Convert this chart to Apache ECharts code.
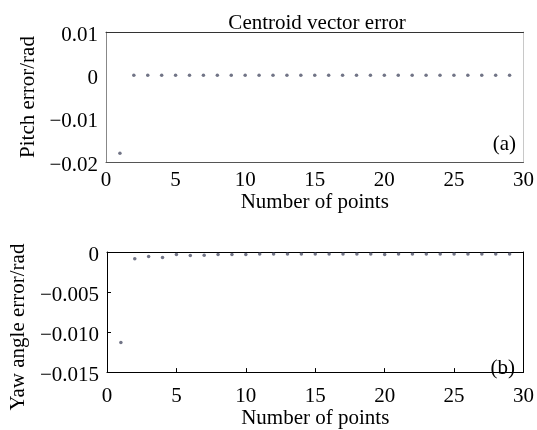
<!DOCTYPE html>
<html>
<head>
<meta charset="utf-8">
<script src="https://cdn.jsdelivr.net/npm/echarts@6/dist/echarts.min.js"></script>
<style>
  html, body { margin: 0; padding: 0; background: #fff; }
  #chart { width: 537px; height: 430px; }
</style>
</head>
<body>
<div id="chart"></div>
<script>
// Sample index along the x axis
const pointIndex = [1, 2, 3, 4, 5, 6, 7, 8, 9, 10, 11, 12, 13, 14, 15, 16, 17, 18, 19, 20,
                    21, 22, 23, 24, 25, 26, 27, 28, 29];

// (a) pitch error per point, rad
const pitchError = [-0.018, 0, 0, 0, 0, 0, 0, 0, 0, 0, 0, 0, 0, 0, 0, 0, 0, 0, 0, 0,
                    0, 0, 0, 0, 0, 0, 0, 0, 0];

// (b) yaw angle error per point, rad
const yawError = [-0.0113, -0.00085, -0.00055, -0.0007, -0.0003, -0.00045, -0.0004, -0.0003,
                  -0.0003, -0.0003, -0.00025, -0.00025, -0.00025, -0.00025, -0.00025, -0.00025,
                  -0.00025, -0.00025, -0.00025, -0.0003, -0.00025, -0.00025, -0.00025, -0.00025,
                  -0.00025, -0.00025, -0.00025, -0.00025, -0.00025];

// Tick labels, listed from the axis minimum upward
const xTickLabels = ['0', '5', '10', '15', '20', '25', '30'];
const pitchTickLabels = ['\u22120.02', '\u22120.01', '0', '0.01'];
const yawTickLabels = ['\u22120.015', '\u22120.010', '\u22120.005', '0'];

const FONT = '"Liberation Serif", "Times New Roman", serif';
const TICK_SIZE = 21;
const NAME_SIZE = 21;

const chart = echarts.init(document.getElementById('chart'), null, { renderer: 'canvas' });

// Plain line used to close the top / right side of a panel
function frameAxis(gridIndex, position, min, max, color) {
  return {
    type: 'value', gridIndex, position, min, max,
    axisLine: { show: true, onZero: false, lineStyle: { color, width: 1 } },
    axisTick: { show: false }, axisLabel: { show: false }, splitLine: { show: false }
  };
}

// Y tick labels sit a little below their tick, so they get a padded rich token
const yLabelRich = { t: { fontFamily: FONT, fontSize: TICK_SIZE, color: '#000', padding: [6, 0, 0, 0] } };

const option = {
  backgroundColor: '#fff',
  animation: false,
  title: {
    text: 'Centroid vector error',
    left: 312, top: 8, textAlign: 'center',
    textStyle: { fontFamily: FONT, fontSize: 21, fontWeight: 'normal', color: '#000' }
  },
  grid: [
    { left: 106, top: 32, width: 418, height: 130 },
    { left: 106, top: 252, width: 418, height: 128 }
  ],
  xAxis: [
    {
      type: 'value', gridIndex: 0, min: 0, max: 30, interval: 5,
      axisLine: { show: true, onZero: false, lineStyle: { color: '#555', width: 1 } },
      axisTick: { show: false },
      axisLabel: { margin: 8, fontFamily: FONT, fontSize: TICK_SIZE, color: '#000',
                   formatter: (v, i) => xTickLabels[i] },
      splitLine: { show: false },
      name: 'Number of points', nameLocation: 'middle', nameGap: 28,
      nameTextStyle: { fontFamily: FONT, fontSize: NAME_SIZE, color: '#000' }
    },
    frameAxis(0, 'top', 0, 30, '#333'),
    {
      type: 'value', gridIndex: 1, min: 0, max: 30, interval: 5,
      axisLine: { show: true, onZero: false, lineStyle: { color: '#000', width: 1 } },
      axisTick: { show: true, inside: true, length: 4, lineStyle: { color: '#000' } },
      axisLabel: { margin: 14, fontFamily: FONT, fontSize: TICK_SIZE, color: '#000',
                   formatter: (v, i) => xTickLabels[i] },
      splitLine: { show: false },
      name: 'Number of points', nameLocation: 'middle', nameGap: 34,
      nameTextStyle: { fontFamily: FONT, fontSize: NAME_SIZE, color: '#000' }
    },
    frameAxis(1, 'top', 0, 30, '#000')
  ],
  yAxis: [
    {
      type: 'value', gridIndex: 0, min: -0.02, max: 0.01, interval: 0.01,
      axisLine: { show: true, onZero: false, lineStyle: { color: '#888', width: 1 } },
      axisTick: { show: false },
      axisLabel: { margin: 8, fontFamily: FONT, fontSize: TICK_SIZE, color: '#000',
                   rich: yLabelRich, formatter: (v, i) => '{t|' + pitchTickLabels[i] + '}' },
      splitLine: { show: false },
      name: 'Pitch error/rad', nameLocation: 'middle', nameGap: 57,
      nameTextStyle: { fontFamily: FONT, fontSize: NAME_SIZE, color: '#000' }
    },
    frameAxis(0, 'right', -0.02, 0.01, '#c8c8c8'),
    {
      type: 'value', gridIndex: 1, min: -0.015, max: 0, interval: 0.005,
      axisLine: { show: true, onZero: false, lineStyle: { color: '#000', width: 1 } },
      axisTick: { show: true, inside: true, length: 4, lineStyle: { color: '#000' } },
      axisLabel: { margin: 8, fontFamily: FONT, fontSize: TICK_SIZE, color: '#000',
                   rich: yLabelRich, formatter: (v, i) => '{t|' + yawTickLabels[i] + '}' },
      splitLine: { show: false },
      name: 'Yaw angle error/rad', nameLocation: 'middle', nameGap: 76,
      nameTextStyle: { fontFamily: FONT, fontSize: NAME_SIZE, color: '#000', padding: [0, 30, 0, 0] }
    },
    frameAxis(1, 'right', -0.015, 0, '#000')
  ],
  graphic: [
    { type: 'text', x: 516, y: 144,
      style: { text: '(a)', font: '21px ' + FONT, fill: '#000', align: 'right', verticalAlign: 'middle' } },
    { type: 'text', x: 515, y: 368,
      style: { text: '(b)', font: '21px ' + FONT, fill: '#000', align: 'right', verticalAlign: 'middle' } }
  ],
  series: [
    {
      type: 'scatter', xAxisIndex: 0, yAxisIndex: 0,
      symbol: 'circle', symbolSize: 3.5,
      itemStyle: { color: '#4d5168' },
      data: pointIndex.map((x, i) => [x, pitchError[i]])
    },
    {
      type: 'scatter', xAxisIndex: 2, yAxisIndex: 2,
      symbol: 'circle', symbolSize: 3.5,
      itemStyle: { color: '#4d5168' },
      data: pointIndex.map((x, i) => [x, yawError[i]])
    }
  ]
};

chart.setOption(option);
</script>
</body>
</html>
